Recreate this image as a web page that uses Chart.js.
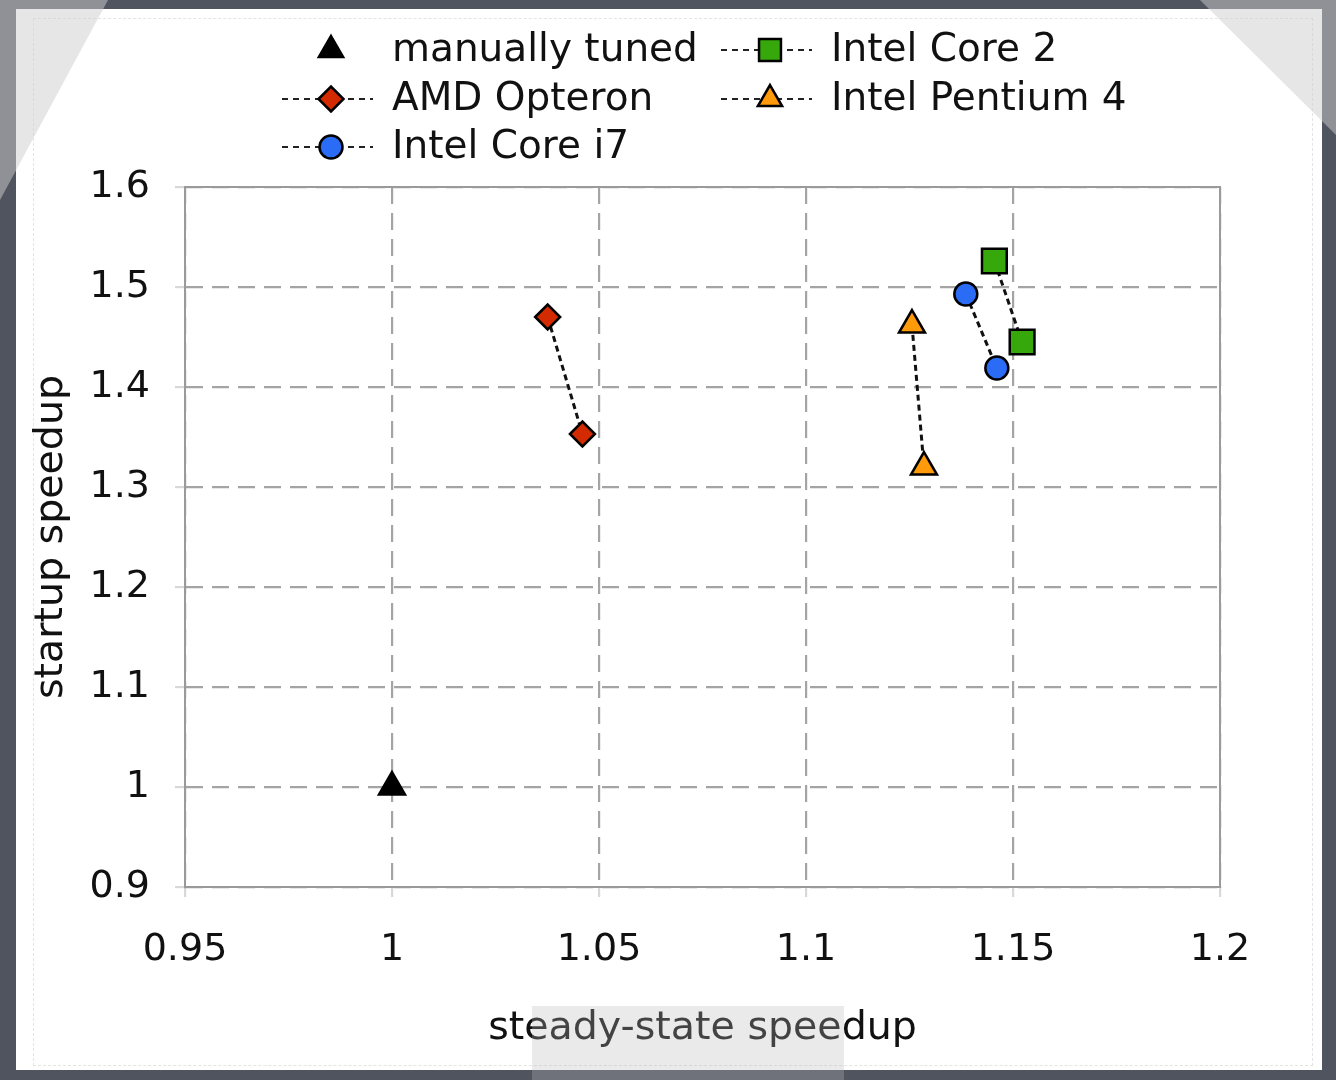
<!DOCTYPE html>
<html>
<head>
<meta charset="utf-8">
<script src="https://cdn.jsdelivr.net/npm/chart.js@4.4.0/dist/chart.umd.min.js"></script>
<style>
    html, body { margin: 0; padding: 0; }
    body { width: 1336px; height: 1080px; position: relative; overflow: hidden; background: #50545f; }
    #paper { position: absolute; left: 16px; top: 9px; width: 1306px; height: 1061px; background: #fff; }
    #inner { position: absolute; left: 33px; top: 18px; width: 1278px; height: 1046px; border: 1px dashed #e4e4e4; }
    #patch { position: absolute; left: 532px; top: 1006px; width: 312px; height: 74px; background: rgba(187, 187, 187, 0.3); }
    .tape { position: absolute; left: 0; top: 0; width: 1336px; height: 1080px; background: rgba(205, 205, 205, 0.5); }
    #tapeL { clip-path: polygon(0 0, 108px 0, 0 200px); }
    #tapeR { clip-path: polygon(1200px 0, 1336px 0, 1336px 135px); }
    #chartCanvas { position: absolute; left: 0; top: 0; }
</style>
</head>
<body>
<div id="paper"></div>
<div id="inner"></div>
<canvas id="chartCanvas" width="1336" height="1080"></canvas>
<div id="patch"></div>
<div class="tape" id="tapeL"></div>
<div class="tape" id="tapeR"></div>
<script>
// valores (steady-state speedup, startup speedup)
const seriesNames = ['manually tuned', 'AMD Opteron', 'Intel Core i7', 'Intel Core 2', 'Intel Pentium 4'];

const manualX = [1.0];
const manualY = [1.0];
const amdX = [1.0376, 1.0460];
const amdY = [1.470, 1.353];
const i7X = [1.1386, 1.1461];
const i7Y = [1.493, 1.419];
const core2X = [1.1455, 1.1522];
const core2Y = [1.526, 1.445];
const p4X = [1.1256, 1.1285];
const p4Y = [1.462, 1.320];

const xTickValues = [0.95, 1, 1.05, 1.1, 1.15, 1.2];
const xTickLabels = ['0.95', '1', '1.05', '1.1', '1.15', '1.2'];
const yTickValues = [0.9, 1, 1.1, 1.2, 1.3, 1.4, 1.5, 1.6];
const yTickLabels = ['0.9', '1', '1.1', '1.2', '1.3', '1.4', '1.5', '1.6'];

const FONT = 'DejaVu Sans';

function toPoints(xs, ys) {
    return xs.map((x, i) => ({ x: x, y: ys[i] }));
}

function makeSeries(label, xs, ys, style, color, radius, showLine) {
    return {
        label: label,
        data: toPoints(xs, ys),
        showLine: showLine,
        borderColor: '#111',
        borderWidth: 3,
        borderDash: [6, 4],
        pointStyle: style,
        pointRadius: radius,
        pointHoverRadius: radius,
        pointBackgroundColor: color,
        pointBorderColor: '#000',
        pointBorderWidth: 2.5
    };
}

const datasets = [
    makeSeries(seriesNames[0], manualX, manualY, 'triangle', '#000', 15, false),
    makeSeries(seriesNames[1], amdX, amdY, 'rectRot', '#d42a00', 12.5, true),
    makeSeries(seriesNames[2], i7X, i7Y, 'circle', '#2a6cf5', 11.5, true),
    makeSeries(seriesNames[3], core2X, core2Y, 'rect', '#36a80c', 17.5, true),
    makeSeries(seriesNames[4], p4X, p4Y, 'triangle', '#ff9a0a', 15, true)
];

// legenda em duas colunas desenhada no próprio canvas
const legendSlots = [
    { col: 0, row: 0, line: false },
    { col: 0, row: 1, line: true },
    { col: 0, row: 2, line: true },
    { col: 1, row: 0, line: true },
    { col: 1, row: 1, line: true }
];

const legendPlugin = {
    id: 'twoColLegend',
    afterDraw(chart) {
        const ctx = chart.ctx;
        const colX = [331, 770];
        const rowY = [50, 99, 147];
        ctx.save();
        chart.data.datasets.forEach((ds, i) => {
            const slot = legendSlots[i];
            const cx = colX[slot.col];
            const cy = rowY[slot.row];
            if (slot.line) {
                ctx.beginPath();
                ctx.setLineDash([6, 5]);
                ctx.lineWidth = 2;
                ctx.strokeStyle = '#222';
                ctx.moveTo(cx - 49, cy);
                ctx.lineTo(cx + 42, cy);
                ctx.stroke();
                ctx.setLineDash([]);
            }
            ctx.fillStyle = ds.pointBackgroundColor;
            ctx.strokeStyle = '#000';
            ctx.lineWidth = 2.5;
            const r = ds.pointStyle === 'rect' ? 15.5 : Math.min(ds.pointRadius, 14);
            Chart.helpers.drawPoint(ctx, { pointStyle: ds.pointStyle, radius: r, rotation: 0, borderWidth: 2.5 }, cx, cy);
            ctx.fillStyle = '#111';
            ctx.font = '39px "' + FONT + '"';
            ctx.textBaseline = 'middle';
            ctx.textAlign = 'left';
            ctx.fillText(ds.label, cx + 61, cy + 1);
        });
        ctx.restore();
    }
};

const framePlugin = {
    id: 'plotFrame',
    beforeDatasetsDraw(chart) {
        const a = chart.chartArea;
        const ctx = chart.ctx;
        ctx.save();
        ctx.strokeStyle = '#9a9a9a';
        ctx.lineWidth = 2;
        ctx.strokeRect(a.left, a.top, a.right - a.left, a.bottom - a.top);
        ctx.restore();
    }
};

new Chart(document.getElementById('chartCanvas').getContext('2d'), {
    type: 'scatter',
    data: { datasets: datasets },
    options: {
        responsive: false,
        animation: false,
        devicePixelRatio: 1,
        layout: { padding: { top: 187, right: 116, left: 0, bottom: 0 } },
        plugins: {
            legend: { display: false },
            tooltip: { enabled: false }
        },
        scales: {
            x: {
                type: 'linear',
                min: 0.95,
                max: 1.2,
                afterFit: s => { s.height = 193; },
                afterBuildTicks: s => { s.ticks = xTickValues.map(v => ({ value: v })); },
                ticks: {
                    color: '#111',
                    padding: 30,
                    font: { family: FONT, size: 38 },
                    maxRotation: 0,
                    callback: (v, i) => xTickLabels[i]
                },
                grid: { color: '#a4a4a4', lineWidth: 2.2, tickLength: 10, tickColor: '#d8d8d8' },
                border: { display: true, color: '#9a9a9a', width: 2, dash: [17, 9] },
                title: {
                    display: true,
                    text: 'steady-state speedup',
                    color: '#111',
                    font: { family: FONT, size: 39.5 },
                    padding: { top: 0, bottom: 28 }
                }
            },
            y: {
                type: 'linear',
                min: 0.9,
                max: 1.6,
                afterFit: s => { s.width = 185; },
                afterBuildTicks: s => { s.ticks = yTickValues.map(v => ({ value: v })); },
                ticks: {
                    color: '#111',
                    padding: 25,
                    font: { family: FONT, size: 38 },
                    callback: (v, i) => yTickLabels[i]
                },
                grid: { color: '#a4a4a4', lineWidth: 2.2, tickLength: 10, tickColor: '#d8d8d8' },
                border: { display: true, color: '#9a9a9a', width: 2, dash: [17, 9] },
                title: {
                    display: true,
                    text: 'startup speedup',
                    color: '#111',
                    font: { family: FONT, size: 39.5 },
                    padding: { top: 28, bottom: 0 }
                }
            }
        }
    },
    plugins: [framePlugin, legendPlugin]
});
</script>
</body>
</html>
